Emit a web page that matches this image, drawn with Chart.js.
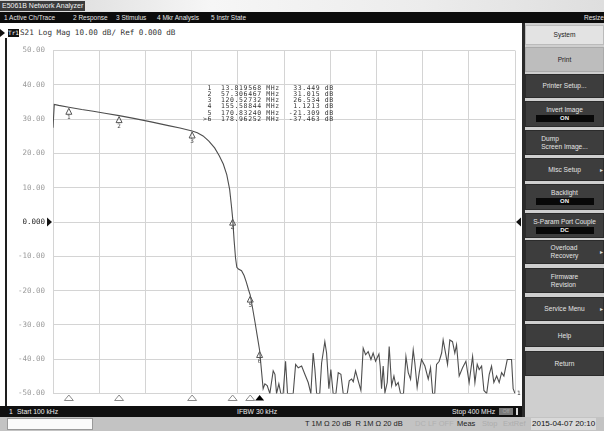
<!DOCTYPE html>
<html><head><meta charset="utf-8">
<script src="https://cdn.jsdelivr.net/npm/chart.js@4/dist/chart.umd.min.js"></script>
<style>
html,body{margin:0;padding:0;}
body{width:604px;height:431px;position:relative;overflow:hidden;background:#cbcbcb;font-family:"Liberation Sans",Arial,sans-serif;}
.abs{position:absolute;white-space:nowrap;}
#menu span{position:absolute;top:0;}
.key{position:absolute;left:525px;width:79px;box-sizing:border-box;display:flex;flex-direction:column;align-items:center;justify-content:center;font-size:6.6px;line-height:8px;color:#e4e4e4;background:#3d3d3d;border:1px solid #2b2b2b;}
.key .box{background:#080808;width:58px;height:7px;line-height:7px;text-align:center;margin-top:1px;color:#f2f2f2;font-weight:bold;font-size:6px;}
.key .arr{position:absolute;right:0px;top:50%;margin-top:-4px;font-size:6px;color:#ddd;}
.mono{font-family:"DejaVu Sans Mono",monospace;}
#bbar span,#status span{position:absolute;top:0;}
</style></head>
<body>
<!-- title bar -->
<div class="abs" style="left:0;top:0;width:604px;height:12px;background:linear-gradient(90deg,#d4d4d4,#f6f6f6 35%,#ececec 70%,#dedede);"></div>
<div class="abs" style="left:0;top:1px;width:85px;height:10px;background:#3b3b3b;color:#f2f2f2;font-size:7px;line-height:10px;padding-left:2px;box-sizing:border-box;">E5061B Network Analyzer</div>
<!-- menu bar -->
<div class="abs" id="menu" style="left:0;top:12px;width:604px;height:11px;background:#0c0c0c;color:#e6e6e6;font-size:6.5px;line-height:11px;">
<span style="left:4px">1 Active Ch/Trace</span><span style="left:73px">2 Response</span><span style="left:116px">3 Stimulus</span><span style="left:157px">4 Mkr Analysis</span><span style="left:211px">5 Instr State</span><span style="left:584px">Resize</span>
</div>
<!-- chart panel -->
<div class="abs" style="left:0;top:23px;width:522px;height:383px;background:#ffffff;"></div>
<div class="abs" style="left:5px;top:38px;width:2px;height:368px;background:#1e1e1e;"></div>
<div class="abs" style="left:0;top:29px;width:0;height:0;border-top:4px solid transparent;border-bottom:4px solid transparent;border-left:5px solid #111;"></div>
<div class="abs mono" style="left:8px;top:29px;width:11px;height:8px;background:#111;color:#fff;font-size:6px;line-height:8px;text-align:center;">Tr1</div>
<div class="abs mono" style="left:20px;top:28px;font-size:7.6px;line-height:10px;color:#333;">S21 Log Mag 10.00 dB/ Ref 0.000 dB</div>
<div class="abs" style="left:8px;top:38px;width:513px;height:368px;"><canvas id="c" width="513" height="368"></canvas></div>
<div class="abs mono" id="mtable" style="left:203px;top:84.5px;font-size:6.5px;letter-spacing:0.6px;line-height:6.3px;color:#333;white-space:pre;"></div>
<!-- softkey panel -->
<div class="abs" style="left:522px;top:23px;width:82px;height:394px;background:#cfcfcf;"></div>
<div class="abs" style="left:522px;top:23px;width:3px;height:394px;background:#2a2a2a;"></div>
<div class="key" style="top:25px;height:20px;background:#e3e3e3;color:#222;border-color:#bbb;">System</div>
<div class="key" style="top:47px;height:25px;background:#bdbdbd;color:#222;border-color:#aaa;">Print</div>
<div class="key" style="top:74px;height:24px;">Printer Setup...</div>
<div class="key" style="top:101px;height:26px;">Invert Image<div class="box">ON</div></div>
<div class="key" style="top:130px;height:25px;">Dump<br>Screen Image...</div>
<div class="key" style="top:158px;height:23px;">Misc Setup<span class="arr">&#9656;</span></div>
<div class="key" style="top:184px;height:26px;">Backlight<div class="box">ON</div></div>
<div class="key" style="top:213px;height:25px;">S-Param Port Couple<div class="box">DC</div></div>
<div class="key" style="top:240px;height:24px;">Overload<br>Recovery<span class="arr">&#9656;</span></div>
<div class="key" style="top:268px;height:25px;">Firmware<br>Revision</div>
<div class="key" style="top:297px;height:24px;">Service Menu<span class="arr">&#9656;</span></div>
<div class="key" style="top:324px;height:23px;">Help</div>
<div class="key" style="top:351px;height:25px;">Return</div>
<!-- bottom channel bar -->
<div class="abs" id="bbar" style="left:0;top:406px;width:522px;height:11px;background:#101010;color:#eeeeee;font-size:6.8px;line-height:11px;">
<span style="left:9px">1</span><span style="left:17px">Start 100 kHz</span><span style="left:237px">IFBW 30 kHz</span><span style="left:452px">Stop 400 MHz</span><span style="left:499px;top:2px;width:14px;height:7px;line-height:7px;background:#7a7a7a;color:#a8a8a8;text-align:center;font-size:5.5px;">Off</span><span style="left:516px;top:2px;width:2px;height:7px;background:#ddd;"></span>
</div>
<!-- status row -->
<div class="abs" id="status" style="left:0;top:417px;width:604px;height:14px;background:#c3c3c3;font-size:7.5px;line-height:14px;color:#1e1e1e;">
<span style="left:7px;top:1px;width:86px;height:12px;background:#fafafa;border:1px solid #999;box-sizing:border-box;"></span>
<span style="left:305px">T 1M &#937; 20 dB&nbsp; R 1M &#937; 20 dB</span>
<span style="left:415px;color:#b0b0b0">DC LF OFF</span>
<span style="left:457px">Meas</span>
<span style="left:482px;color:#adadad">Stop</span>
<span style="left:503px;color:#adadad">ExtRef</span>
<span style="left:531px;top:1px;height:12px;line-height:12px;padding:0 1px;background:#d9d9d9;font-size:8px;color:#111;">2015-04-07 20:10</span>
</div>
<script>
// ---- data (frequency in MHz, S21 in dB) ----
const freqMHz = [0.1,1.2,5,13.82,25,35,45,57.31,70,85,100,110,120.53,125,130,135,140,144,147.5,150.5,153,154.6,155.59,156.9,158.1,159.2,160.6,163.3,165.5,167.5,169.2,170.83,172.8,175,177,178.96,180.6,182,
183.5,185.5,187.8,190.7,192.2,193.6,195.6,197.3,199.3,201.4,203.1,208.0,210.1,212.4,215.3,218.1,221.0,223.3,225.3,226.8,228.3,231.0,232.6,235.4,236.9,238.9,240.6,242.6,245.0,247.0,249.3,251.3,254.8,256.5,258.6,260.0,262.0,264.3,266.6,268.6,270.7,272.9,275.3,277.2,279.3,282.2,283.3,284.5,285.9,287.4,289.4,291.1,293.2,295.2,296.9,298.9,300.9,303.5,305.6,307.6,309.6,311.9,313.3,315.3,317.1,319.1,322.0,324.9,326.9,328.7,330.5,332.1,334.4,336.5,337.8,339.9,341.6,343.6,345.9,347.9,349.4,351.7,354.6,357.5,360.3,363.3,365.3,367.3,369.0,371.1,373.1,375.5,377.7,379.7,381.7,384.1,386.3,388.4,390.4,393.3,397.0,398.4,400.0];
const s21dB = [27.5,34.3,34.0,33.45,32.8,32.3,31.7,31.02,30.2,29.2,28.1,27.4,26.53,26.0,25.1,23.6,21.6,19.3,16.9,13.8,9.5,4.5,1.12,-5.5,-10.5,-13.2,-13.7,-14.2,-15.6,-17.6,-19.6,-21.31,-25.0,-29.3,-33.4,-37.46,-43.5,-48.6,
-47.2,-47.7,-50,-43.4,-44.4,-50,-47.2,-50,-50,-40.6,-50,-50,-41.5,-42.5,-42.0,-44.4,-46.8,-50,-38.2,-43.0,-50,-50,-41.1,-34.9,-38.2,-48.6,-43.0,-50,-50,-43.9,-44.4,-50,-50,-46.3,-45.8,-46.6,-43.4,-46.3,-49.1,-36.8,-38.7,-37.8,-40.1,-38.2,-40.6,-38.5,-42.0,-48.6,-42.0,-49.8,-46.8,-36.3,-47.7,-44.9,-47.7,-46.8,-50,-50,-39.2,-43.9,-45.8,-37.3,-41.1,-48.2,-43.9,-40.1,-42.0,-45.8,-42.5,-50,-50,-41.5,-40.6,-38.2,-34.4,-38.2,-41.5,-34.4,-34.9,-38.2,-35.8,-44.9,-42.5,-40.6,-46.8,-39.2,-46.8,-41.5,-43.0,-42.0,-49.1,-50,-44.4,-42.0,-46.8,-44.9,-46.8,-43.9,-44.9,-40.1,-40.1,-48.6,-50];

const markerNo = ['1','2','3','4','5','6'];
const markerFreq = [13.819568, 57.306467, 120.52732, 155.58844, 170.83240, 178.96252];
const markerDb = [33.449, 31.015, 26.534, 1.1213, -21.309, -37.463];
const markerFreqText = ['13.819568','57.306467','120.52732','155.58844','170.83240','178.96252'];
const markerDbText = ['33.449','31.015','26.534','1.1213','-21.309','-37.463'];
const activeMarker = 5;

const yTicks = [-50,-40,-30,-20,-10,0,10,20,30,40,50];
const yTickLabels = ['-50.00','-40.00','-30.00','-20.00','-10.00','0.000','10.00','20.00','30.00','40.00','50.00'];
const xGridMHz = [0.1,40.09,80.08,120.07,160.06,200.05,240.04,280.03,320.02,360.01,400];
const startMHz = 0.1, stopMHz = 400, refLevel = 0;

// marker readout table
document.getElementById('mtable').textContent = markerNo.map((n,i)=>{
  const id = (i===activeMarker ? '>' : ' ') + n;
  return id + '  ' + markerFreqText[i].padStart(9,' ') + ' MHz  ' + markerDbText[i].padStart(7,' ') + ' dB';
}).join('\n');

const marksPlugin = {
  id:'marks',
  afterDatasetsDraw(chart){
    const {ctx, chartArea:a, scales:{x,y}} = chart;
    ctx.save();
    const y0 = y.getPixelForValue(refLevel);
    ctx.fillStyle = '#111';
    ctx.beginPath(); ctx.moveTo(a.left-6, y0-4.5); ctx.lineTo(a.left-1, y0); ctx.lineTo(a.left-6, y0+4.5); ctx.closePath(); ctx.fill();
    ctx.beginPath(); ctx.moveTo(a.right+6, y0-4.5); ctx.lineTo(a.right+1, y0); ctx.lineTo(a.right+6, y0+4.5); ctx.closePath(); ctx.fill();
    markerFreq.forEach((f,i)=>{
      const px = x.getPixelForValue(f), py = y.getPixelForValue(markerDb[i]);
      ctx.strokeStyle = '#555'; ctx.lineWidth = 1;
      ctx.beginPath(); ctx.moveTo(px, py+1); ctx.lineTo(px-3, py+7); ctx.lineTo(px+3, py+7); ctx.closePath(); ctx.stroke();
      ctx.fillStyle = '#444'; ctx.font = '6px "DejaVu Sans Mono"'; ctx.textAlign = 'center'; ctx.textBaseline = 'top';
      ctx.fillText(markerNo[i], px, py+7.5);
      const by = a.bottom;
      ctx.beginPath(); ctx.moveTo(px, by+1.5); ctx.lineTo(px-4.5, by+7); ctx.lineTo(px+4.5, by+7); ctx.closePath();
      if (i===activeMarker){ ctx.fillStyle='#000'; ctx.fill(); } else { ctx.strokeStyle='#8a8a8a'; ctx.stroke(); }
    });
    ctx.fillStyle = '#333'; ctx.font = '6px "DejaVu Sans Mono"'; ctx.textAlign='left'; ctx.textBaseline='middle';
    ctx.fillText('1', a.right+2, y.getPixelForValue(s21dB[s21dB.length-1]));
    ctx.restore();
  }
};

new Chart(document.getElementById('c').getContext('2d'), {
  type:'line',
  data:{datasets:[{data:freqMHz.map((f,i)=>({x:f,y:s21dB[i]})), borderColor:'#4e4e4e', borderWidth:1.1, pointRadius:0, tension:0, fill:false}]},
  options:{
    responsive:false, animation:false, devicePixelRatio:1,
    layout:{padding:{left:0,right:6,top:8.5,bottom:8.5}},
    plugins:{legend:{display:false}, tooltip:{enabled:false}},
    scales:{
      x:{type:'linear', min:startMHz, max:stopMHz,
         afterBuildTicks:s=>{s.ticks = xGridMHz.map(v=>({value:v}));},
         ticks:{display:false}, grid:{color:'#d4d4d4', drawTicks:false}, border:{display:false}},
      y:{type:'linear', min:-50, max:50,
         afterBuildTicks:s=>{s.ticks = yTicks.map(v=>({value:v}));},
         afterFit:s=>{s.width = 45;},
         ticks:{padding:8, color:c=> (c.tick && c.tick.value===0) ? '#222' : '#9a9a9a',
                font:{family:'DejaVu Sans Mono', size:7.5},
                callback:v=> yTickLabels[yTicks.indexOf(v)]},
         grid:{color:'#d4d4d4', drawTicks:false}, border:{display:false}}
    }
  },
  plugins:[marksPlugin]
});
</script>
</body></html>
